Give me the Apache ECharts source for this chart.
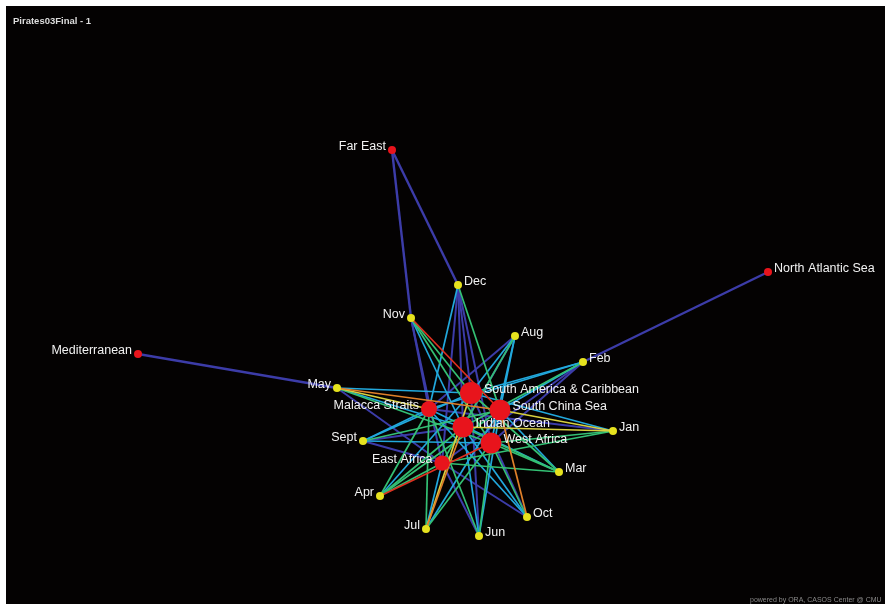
<!DOCTYPE html>
<html><head><meta charset="utf-8">
<script src="https://cdn.jsdelivr.net/npm/echarts@6/dist/echarts.min.js"></script>
<style>html,body{margin:0;padding:0;background:#fff}#c{width:885px;height:604px}</style>
</head><body><div id="c"></div>
<script>
// ---- data ----
const regions = ['South America & Caribbean', 'Malacca Straits', 'South China Sea', 'Indian Ocean', 'West Africa', 'East Africa'];
const regionX = [471, 429, 500, 463, 491, 442];
const regionY = [393, 409, 410, 427, 443, 463];
const regionCentrality = [1.0, 0.6, 0.93, 0.93, 0.93, 0.55];

const months = ['Jan', 'Feb', 'Mar', 'Apr', 'May', 'Jun', 'Jul', 'Aug', 'Sept', 'Oct', 'Nov', 'Dec'];
const monthX = [613, 583, 559, 380, 337, 479, 426, 515, 363, 527, 411, 458];
const monthY = [431, 362, 472, 496, 388, 536, 529, 336, 441, 517, 318, 285];

const outerAreas = ['Far East', 'North Atlantic Sea', 'Mediterranean'];
const outerX = [392, 768, 138];
const outerY = [150, 272, 354];

// link strength level (0 weakest .. 5 strongest) month x region
const linkLevel = [
  // SA&C Malacca SCS IO WA EA
  [1, 0, 3, 3, 2, 2], // Jan
  [1, 1, 1, 2, 0, 0], // Feb
  [2, 1, 1, 2, 2, 2], // Mar
  [1, 2, 2, 2, 5, 2], // Apr
  [1, 3, 4, 1, 2, 0], // May
  [0, 2, 1, 1, 2, 0], // Jun
  [3, 2, 1, 4, 2, 1], // Jul
  [1, 0, 1, 0, 1, 2], // Aug
  [1, 1, 2, 0, 1, 0], // Sept
  [0, 1, 4, 1, 2, 0], // Oct
  [2, 0, 5, 1, 2, 0], // Nov
  [0, 1, 2, 0, 0, 0]  // Dec
];
const outerLinkSource = ['Far East', 'Far East', 'North Atlantic Sea', 'Mediterranean'];
const outerLinkTarget = ['Nov', 'Dec', 'Feb', 'May'];

// ---- styling ----
const levelColors = ['#3c3ca8', '#22a8dc', '#34c074', '#d8d040', '#e0802a', '#e03020'];
const leftLabelled = new Set(['Malacca Straits', 'East Africa', 'Apr', 'May', 'Jul', 'Sept', 'Nov', 'Far East', 'Mediterranean']);
const labelStyle = { show: true, color: '#f2f2f2', fontSize: 12.5, fontFamily: 'Liberation Sans, Arial, sans-serif', distance: 2, offset: [0, -3] };

function node(name, x, y, size, color) {
  return {
    name, value: [x, y], symbolSize: size,
    itemStyle: { color },
    label: Object.assign({}, labelStyle, { position: leftLabelled.has(name) ? 'left' : 'right' })
  };
}

const nodes = [];
regions.forEach((r, i) => nodes.push(node(r, regionX[i], regionY[i], 7 + 15 * regionCentrality[i], '#e8141c')));
months.forEach((m, i) => nodes.push(node(m, monthX[i], monthY[i], 8, '#e6e21e')));
outerAreas.forEach((o, i) => nodes.push(node(o, outerX[i], outerY[i], 8, '#e8141c')));

const links = [];
outerLinkSource.forEach((s, i) => links.push({ source: s, target: outerLinkTarget[i], lineStyle: { color: levelColors[0], width: 2.4 } }));
// draw weaker levels first
for (let lv = 0; lv < levelColors.length; lv++) {
  months.forEach((m, i) => {
    regions.forEach((r, j) => {
      if (linkLevel[i][j] === lv) {
        links.push({ source: m, target: r, lineStyle: { color: levelColors[lv], width: lv === 0 ? 2 : 1.7 } });
      }
    });
  });
}

const chart = echarts.init(document.getElementById('c'), null, { renderer: 'canvas' });
chart.setOption({
  backgroundColor: '#ffffff',
  animation: false,
  title: {
    text: 'Pirates03Final - 1', left: 8, top: 11,
    textStyle: { color: '#dddddd', fontSize: 9.5, fontWeight: 'bold', fontFamily: 'Liberation Sans, Arial, sans-serif' }
  },
  graphic: [
    { type: 'rect', z: -10, silent: true, shape: { x: 6, y: 6, width: 879, height: 598 }, style: { fill: '#040202' } },
    { type: 'text', z: 10, silent: true, x: 750, y: 597, style: { text: 'powered by ORA, CASOS Center @ CMU', fill: '#8a8a8a', fontSize: 7, fontFamily: 'Liberation Sans, Arial, sans-serif' } }
  ],
  grid: { left: 0, right: 0, top: 0, bottom: 0 },
  xAxis: { type: 'value', min: 0, max: 885, show: false },
  yAxis: { type: 'value', min: 0, max: 604, inverse: true, show: false },
  series: [{
    type: 'graph',
    coordinateSystem: 'cartesian2d',
    layout: 'none',
    symbol: 'circle',
    data: nodes,
    links: links,
    lineStyle: { opacity: 1, curveness: 0 },
    emphasis: { disabled: true },
    z: 3
  }]
});
</script>
</body></html>
